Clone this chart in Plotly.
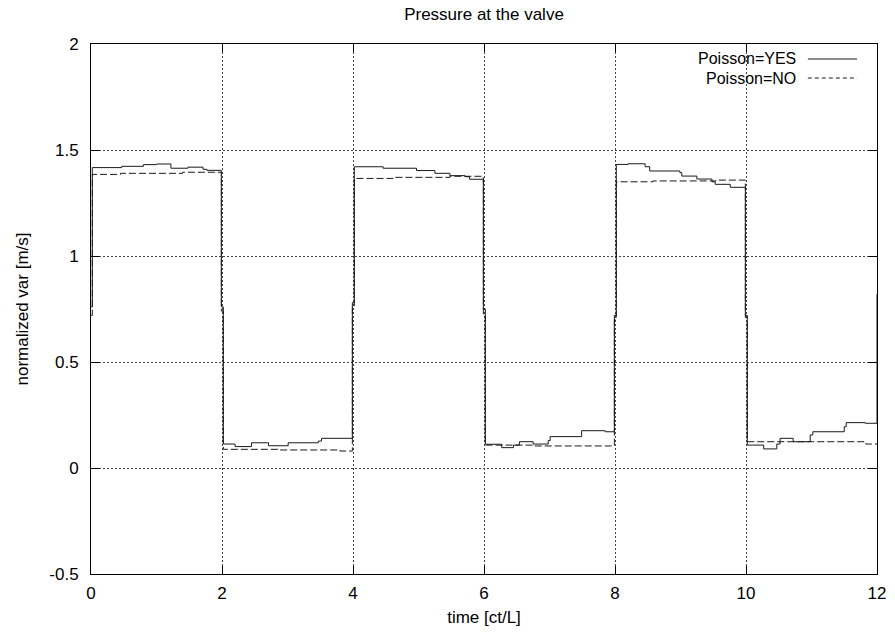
import plotly.graph_objects as go

# Poisson=YES (solid) step series: time [ct/L], value
yes_t = [0.0, 0.02, 0.47, 0.80, 1.00, 1.22, 1.48, 1.71, 1.77, 1.99, 2.02, 2.20, 2.45, 2.71, 3.01, 3.47, 3.52,
         3.99, 4.02, 4.46, 4.97, 5.25, 5.48, 5.71, 5.78, 5.99, 6.02, 6.27, 6.45, 6.54, 6.75, 6.98, 7.01, 7.49, 7.85,
         7.99, 8.02, 8.20, 8.46, 8.53, 8.99, 9.02, 9.25, 9.48, 9.53, 9.76, 9.99, 10.02, 10.27, 10.47, 10.52, 10.72,
         10.98, 11.02, 11.50, 11.53, 11.82, 12.0]
yes_v = [0.76, 1.417, 1.423, 1.431, 1.434, 1.414, 1.419, 1.409, 1.404, 0.76, 0.113, 0.101, 0.119, 0.105, 0.119, 0.127, 0.140,
         0.78, 1.421, 1.414, 1.403, 1.390, 1.379, 1.374, 1.362, 0.75, 0.112, 0.096, 0.108, 0.124, 0.113, 0.129, 0.148, 0.176, 0.171,
         0.72, 1.432, 1.435, 1.421, 1.401, 1.393, 1.377, 1.363, 1.350, 1.338, 1.324, 0.72, 0.108, 0.090, 0.113, 0.140, 0.124,
         0.156, 0.171, 0.195, 0.214, 0.211, 0.82]

# Poisson=NO (dashed) step series
no_t = [0.0, 0.02, 0.45, 1.40, 1.99, 2.02, 2.86, 3.80, 3.99, 4.02, 4.62, 5.48, 5.99, 6.02, 6.75,
        7.99, 8.02, 8.58, 9.54, 9.99, 10.02, 11.83, 12.0]
no_v = [0.72, 1.385, 1.390, 1.395, 0.74, 0.088, 0.085, 0.080, 0.76, 1.366, 1.371, 1.376, 0.72, 0.108, 0.104,
        0.70, 1.350, 1.354, 1.358, 0.71, 0.124, 0.113, 0.113]

x_ticks = [0, 2, 4, 6, 8, 10, 12]
y_ticks = [-0.5, 0, 0.5, 1, 1.5, 2]
y_labels = ["-0.5", "0", "0.5", "1", "1.5", "2"]

FONT = "Liberation Sans, Arial, sans-serif"
FS = 17

fig = go.Figure()
fig.add_trace(go.Scatter(x=yes_t, y=yes_v, mode="lines", line=dict(shape="hv", color="#1a1a1a", width=1),
                         name="Poisson=YES", showlegend=False))
fig.add_trace(go.Scatter(x=no_t, y=no_v, mode="lines", line=dict(shape="hv", color="#1a1a1a", width=1, dash="7px,3px"),
                         name="Poisson=NO", showlegend=False))

axis_common = dict(showline=True, linecolor="black", linewidth=1, mirror="ticks", ticks="inside", ticklen=8,
                   tickcolor="black", showgrid=True, gridcolor="#444", gridwidth=1, griddash="2px,2px",
                   zeroline=False, automargin=False, tickfont=dict(family=FONT, size=FS, color="black"))

fig.update_xaxes(range=[0, 12], tickvals=x_ticks, ticklabelstandoff=4,
                 title=dict(text="time [ct/L]", font=dict(family=FONT, size=FS, color="black"), standoff=8),
                 **axis_common)
fig.update_yaxes(range=[-0.5, 2], tickvals=y_ticks, ticktext=y_labels, ticklabelstandoff=8,
                 title=dict(text="normalized var [m/s]", font=dict(family=FONT, size=FS, color="black"), standoff=16),
                 **axis_common)

# gnuplot-style key (text then line sample)
legend_items = [("Poisson=YES", "solid", 0.9717), ("Poisson=NO", "4px,3px", 0.9358)]
for label, dash, yp in legend_items:
    fig.add_annotation(x=0.8957, y=yp, xref="paper", yref="paper", text=label, showarrow=False,
                       xanchor="right", yanchor="middle", xshift=2, borderpad=0,
                       font=dict(family=FONT, size=16, color="black"))
    fig.add_shape(type="line", xref="paper", yref="paper", x0=0.912, x1=0.9746, y0=yp, y1=yp,
                  line=dict(color="#1a1a1a", width=1, dash=dash))

fig.update_layout(
    width=895, height=633,
    margin=dict(l=91, r=18, t=44, b=59, autoexpand=False),
    paper_bgcolor="white", plot_bgcolor="white",
    title=dict(text="Pressure at the valve", x=0.5, xref="paper", y=0.978, yanchor="middle",
               font=dict(family=FONT, size=FS, color="black")),
    showlegend=False,
)

fig.write_html("out.html")
